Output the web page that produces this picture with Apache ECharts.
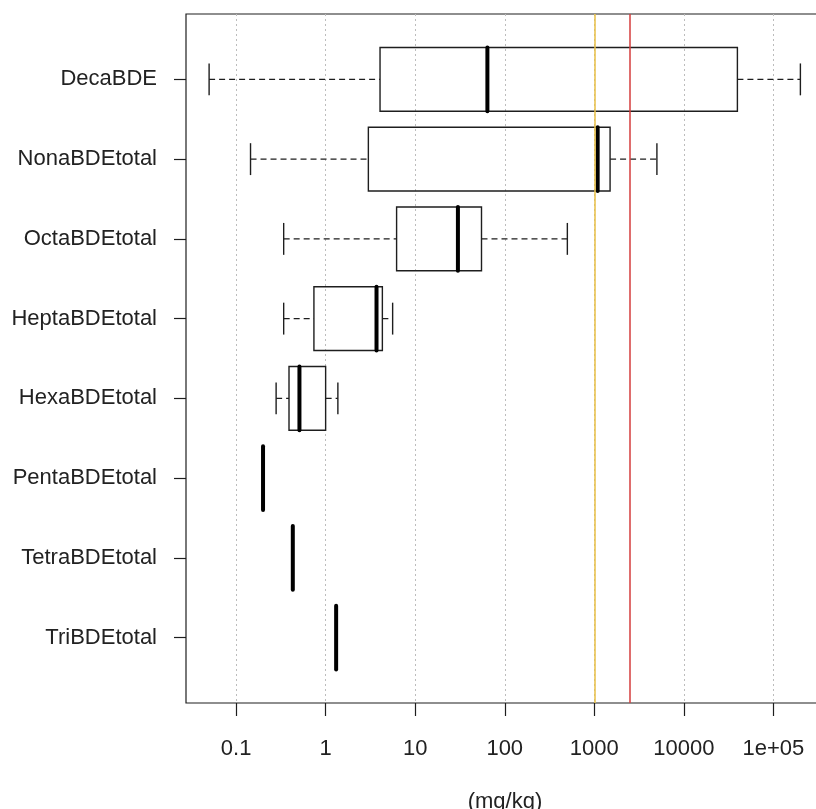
<!DOCTYPE html>
<html>
<head>
<meta charset="utf-8">
<script src="https://cdn.jsdelivr.net/npm/echarts@6/dist/echarts.min.js"></script>
<style>
  html, body { margin: 0; padding: 0; background: #ffffff; overflow: hidden; }
  #chart { width: 824px; height: 809px; }
</style>
</head>
<body>
<div id="chart"></div>
<script>
// PBDE homologue concentrations, top to bottom
const categories = ['DecaBDE', 'NonaBDEtotal', 'OctaBDEtotal', 'HeptaBDEtotal',
                    'HexaBDEtotal', 'PentaBDEtotal', 'TetraBDEtotal', 'TriBDEtotal'];
const whiskerLow  = [0.05, 0.145, 0.34, 0.34, 0.28, 0.2, 0.43, 1.31];
const quartile1   = [4.05, 3.0, 6.2, 0.74, 0.39, 0.2, 0.43, 1.31];
const medians     = [64, 1090, 30, 3.7, 0.51, 0.2, 0.43, 1.31];
const quartile3   = [39600, 1500, 55, 4.3, 1.0, 0.2, 0.43, 1.31];
const whiskerHigh = [200000, 5000, 500, 5.6, 1.37, 0.2, 0.43, 1.31];

// decade ticks of the log axis
const xTicks = [0.1, 1, 10, 100, 1000, 10000, 100000];

// limit values drawn as vertical lines
const limitValues = [1000, 2500];
const limitColors = ['#e8bf45', '#d43c3c'];

const FONT = "'Liberation Sans', Arial, sans-serif";
const INK = '#222222';

function formatTick(v) {
  if (v >= 100000) {
    const e = Math.round(Math.log10(v));
    const m = v / Math.pow(10, e);
    return m + 'e+' + String(e).padStart(2, '0');
  }
  return String(+v.toPrecision(6));
}

const boxData = categories.map((c, i) => [
  whiskerLow[i], quartile1[i], medians[i], quartile3[i], whiskerHigh[i], i + 1
]);

function renderBox(params, api) {
  const lo = api.value(0), q1 = api.value(1), md = api.value(2),
        q3 = api.value(3), hi = api.value(4), pos = api.value(5);
  const unit = api.size([0, 1])[1];
  const half = unit * 0.4;
  const cap = half * 0.5;
  const pLo = api.coord([lo, pos]);
  const pQ1 = api.coord([q1, pos]);
  const pMd = api.coord([md, pos]);
  const pQ3 = api.coord([q3, pos]);
  const pHi = api.coord([hi, pos]);
  const y = pMd[1];
  const thin = { stroke: '#1e1e1e', lineWidth: 1.4, fill: null };
  const dashed = { stroke: '#1e1e1e', lineWidth: 1.4, lineDash: [6, 4] };
  const children = [];
  // whiskers
  if (pQ1[0] - pLo[0] > 0.5) {
    children.push({ type: 'line', shape: { x1: pLo[0], y1: y, x2: pQ1[0], y2: y }, style: dashed });
  }
  if (pHi[0] - pQ3[0] > 0.5) {
    children.push({ type: 'line', shape: { x1: pQ3[0], y1: y, x2: pHi[0], y2: y }, style: dashed });
  }
  // staples
  children.push({ type: 'line', shape: { x1: pLo[0], y1: y - cap, x2: pLo[0], y2: y + cap }, style: thin });
  children.push({ type: 'line', shape: { x1: pHi[0], y1: y - cap, x2: pHi[0], y2: y + cap }, style: thin });
  // box
  children.push({ type: 'rect', shape: { x: pQ1[0], y: y - half, width: pQ3[0] - pQ1[0], height: half * 2 }, style: thin });
  // median
  children.push({ type: 'line', shape: { x1: pMd[0], y1: y - half, x2: pMd[0], y2: y + half },
                  style: { stroke: '#000000', lineWidth: 4, lineCap: 'round' } });
  return { type: 'group', children: children };
}

const chart = echarts.init(document.getElementById('chart'), null, { renderer: 'canvas' });

chart.setOption({
  animation: false,
  backgroundColor: '#ffffff',
  grid: {
    left: 186, right: 0, top: 14, bottom: 106,
    containLabel: false,
    outerBoundsMode: 'none',
    show: true, borderColor: '#1e1e1e', borderWidth: 1.2, backgroundColor: 'transparent'
  },
  xAxis: {
    type: 'log',
    logBase: 10,
    min: 0.0276,
    max: 367000,
    name: '(mg/kg)',
    nameLocation: 'middle',
    nameGap: 88,
    nameTextStyle: { fontFamily: FONT, fontSize: 22, color: INK },
    axisLine: { show: false },
    axisTick: { show: true, length: 13, customValues: xTicks, lineStyle: { color: '#1e1e1e', width: 1.2 } },
    axisLabel: {
      customValues: xTicks, margin: 35, fontFamily: FONT, fontSize: 22, color: INK,
      formatter: formatTick
    },
    splitLine: { show: true, lineStyle: { color: '#bcbcbc', type: [2, 3], width: 1 } }
  },
  yAxis: {
    type: 'value',
    inverse: true,
    min: 0.18,
    max: 8.82,
    axisLine: { show: false },
    axisTick: { show: true, length: 12, customValues: [1, 2, 3, 4, 5, 6, 7, 8], lineStyle: { color: '#1e1e1e', width: 1.2 } },
    axisLabel: {
      customValues: [1, 2, 3, 4, 5, 6, 7, 8], margin: 29, fontFamily: FONT, fontSize: 22, color: INK,
      formatter: v => categories[Math.round(v) - 1] || ''
    },
    splitLine: { show: false }
  },
  series: [
    {
      type: 'line',
      data: [],
      silent: true,
      z: 1,
      markLine: {
        silent: true,
        symbol: 'none',
        label: { show: false },
        data: limitValues.map((v, i) => ({ xAxis: v, lineStyle: { color: limitColors[i], width: 1.5, type: 'solid' } }))
      }
    },
    {
      type: 'custom',
      z: 3,
      silent: true,
      renderItem: renderBox,
      encode: { x: [0, 1, 2, 3, 4], y: 5 },
      data: boxData
    }
  ]
});
</script>
</body>
</html>
